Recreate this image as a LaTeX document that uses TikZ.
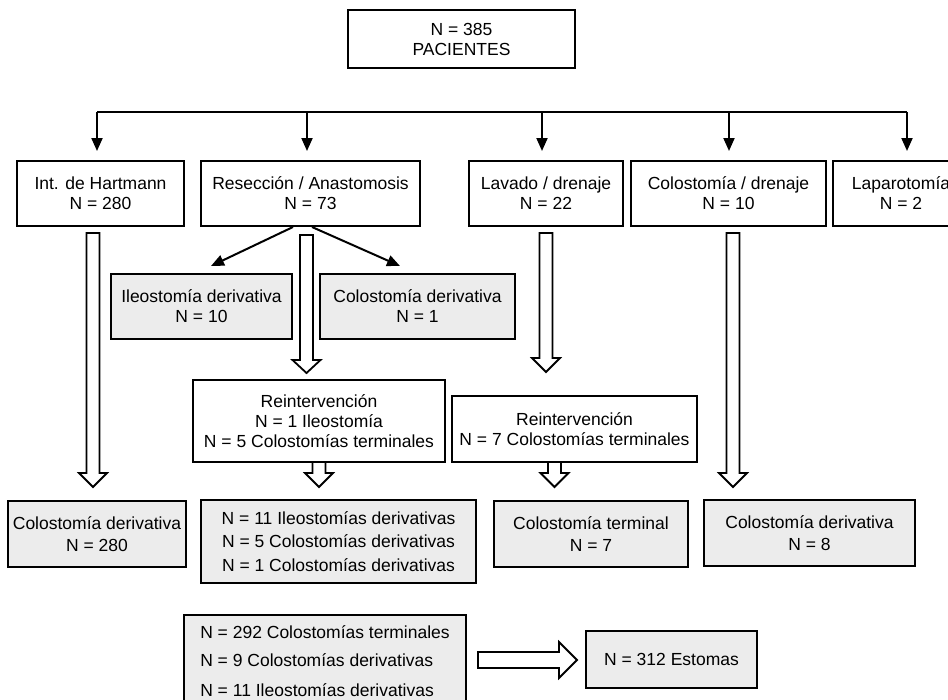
\documentclass[tikz,border=0pt]{standalone}
\usepackage{fontspec}
\setmainfont{Liberation Sans}
\usetikzlibrary{arrows.meta}
\definecolor{boxgray}{HTML}{ECECEC}
\newcommand{\hollowdown}[4]{%
  \draw[hollow] ({#1-6.5},#2) -- ({#1+6.5},#2) -- ({#1+6.5},#3) -- ({#1+14},#3) -- (#1,#4) -- ({#1-14},#3) -- ({#1-6.5},#3) -- cycle;}
\begin{document}
\begin{tikzpicture}[x=1pt,y=-1pt,line width=2pt,
  box/.style={draw=black,fill=white,align=center,inner sep=0pt,font=\fontsize{17.5}{20}\selectfont},
  gbox/.style={box,fill=boxgray},
  arr/.style={-{Triangle[length=13pt,width=11pt]}},
  hollow/.style={draw=black,fill=white,line width=1.8pt,line join=miter}]
\useasboundingbox (0,0) rectangle (948,699);
\clip (0,0) rectangle (948,699);

% top
\node[box,minimum width=227pt,minimum height=58pt] (top) at (461.5,39) {N = 385\\PACIENTES};

% row 1
\node[box,minimum width=167pt,minimum height=65pt] (hart) at (100.5,193.5) {Int. de Hartmann\\N = 280};
\node[box,minimum width=219pt,minimum height=65pt] (resec) at (310.5,193.5) {Resección / Anastomosis\\N = 73};
\node[box,minimum width=154pt,minimum height=65pt] (lav) at (546,193.5) {Lavado / drenaje\\N = 22};
\node[box,minimum width=195pt,minimum height=65pt] (coldren) at (728.5,193.5) {Colostomía / drenaje\\N = 10};
\node[box,minimum width=136pt,minimum height=65pt] (lap) at (901,193.5) {Laparotomía\\N = 2};

% bus
\coordinate (b1) at (97,112);
\coordinate (b2) at (307,112);
\coordinate (b3) at (542,112);
\coordinate (b4) at (729,112);
\coordinate (b5) at (907,112);
\draw (b1) -- (b5);
\draw[arr,shorten >=9pt] (b1) -- (b1 |- hart.north);
\draw[arr,shorten >=9pt] (b2) -- (b2 |- resec.north);
\draw[arr,shorten >=9pt] (b3) -- (b3 |- lav.north);
\draw[arr,shorten >=9pt] (b4) -- (b4 |- coldren.north);
\draw[arr,shorten >=9pt] (b5) -- (b5 |- lap.north);

% row 2
\node[gbox,minimum width=181pt,minimum height=65pt] (ileo) at (201.5,306.5) {Ileostomía derivativa\\N = 10};
\node[gbox,minimum width=195pt,minimum height=65pt] (colo1) at (417.5,306.5) {Colostomía derivativa\\N = 1};
\draw[arr] ([xshift=-17.5pt]resec.south) -- ([xshift=9.5pt,yshift=7pt]ileo.north);
\draw[arr] ([xshift=1.5pt]resec.south) -- ([xshift=-17.5pt,yshift=7pt]colo1.north);

\node[box,minimum width=252pt,minimum height=82pt] (reint1) at (319,421) {Reintervención\\N = 1 Ileostomía\\N = 5 Colostomías terminales};
\node[box,minimum width=245pt,minimum height=66pt] (reint2) at (574.5,429) {Reintervención\\N = 7 Colostomías terminales};

% row 3
\node[gbox,minimum width=178pt,minimum height=66pt] (cd280) at (97,534) {Colostomía derivativa\\[2pt]N = 280};
\node[gbox,minimum width=275pt,minimum height=83pt] (mid) at (338.5,541.5) {N = 11 Ileostomías derivativas\\[3.5pt]N = 5 Colostomías derivativas\\[3.5pt]N = 1 Colostomías derivativas};
\node[gbox,minimum width=194pt,minimum height=66pt] (ct7) at (591,534) {Colostomía terminal\\[2pt]N = 7};
\node[gbox,minimum width=211pt,minimum height=66pt] (cd8) at (809.5,533) {Colostomía derivativa\\[2pt]N = 8};

% hollow arrows
\hollowdown{93}{233}{473}{487}
\hollowdown{306.5}{235}{360}{373}
\hollowdown{546}{233}{358}{372}
\hollowdown{733}{233}{473}{487}
\hollowdown{319}{462}{473}{487}
\hollowdown{554.5}{462}{473}{487}

% bottom
\node[gbox,minimum width=282pt,minimum height=93pt,align=left] (sum) at (325,661.5) {N = 292 Colostomías terminales\\[8pt]N = 9 Colostomías derivativas\\[10pt]N = 11 Ileostomías derivativas};
\node[gbox,minimum width=171pt,minimum height=57pt] (est) at (671.5,659.5) {N = 312 Estomas};
\draw[hollow] (478,652) -- (559,652) -- (559,642) -- (577,660) -- (559,678) -- (559,668) -- (478,668) -- cycle;
\end{tikzpicture}
\end{document}
